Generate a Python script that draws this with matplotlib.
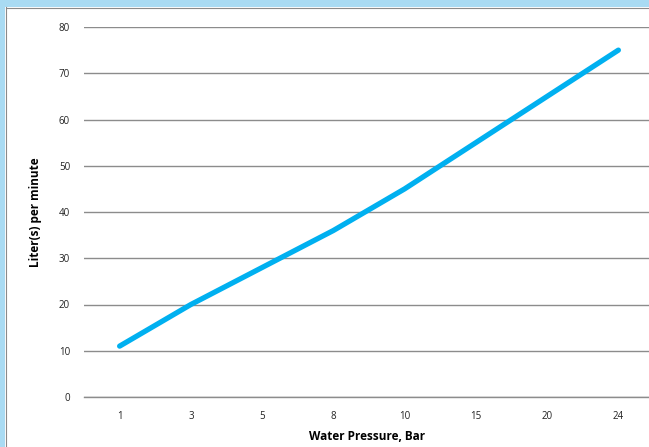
import matplotlib
matplotlib.use("Agg")
import matplotlib.pyplot as plt
from matplotlib.patches import Rectangle
from matplotlib.lines import Line2D

categories = ["1", "3", "5", "8", "10", "15", "20", "24"]
liters = [11, 20, 28, 36, 45, 55, 65, 75]
yticks = [0, 10, 20, 30, 40, 50, 60, 70, 80]

plt.rcParams['font.family'] = ['Open Sans', 'DejaVu Sans']

W, H = 649, 447
fig = plt.figure(figsize=(W/100, H/100), dpi=100)
fig.patch.set_facecolor("white")

# Blue frame (top and left)
fig.add_artist(Rectangle((0, 1 - 7/H), 1, 7/H, transform=fig.transFigure,
                         facecolor="#A9DBF3", edgecolor="none", zorder=0))
fig.add_artist(Rectangle((0, 0), 5/W, 1, transform=fig.transFigure,
                         facecolor="#A9DBF3", edgecolor="none", zorder=0))
fig.add_artist(Line2D([5.5/W, 5.5/W], [0, 1 - 7/H], transform=fig.transFigure,
                      color="#8A8A8A", lw=0.8))
fig.add_artist(Line2D([5.5/W, 1], [1 - 7.5/H, 1 - 7.5/H], transform=fig.transFigure,
                      color="#8A8A8A", lw=0.8))

left = 84/W
bottom = 50/H
width = (654 - 84)/W
height = 370/H
ax = fig.add_axes([left, bottom, width, height])
ax.set_facecolor("none")

x = list(range(len(categories)))
ax.plot(x, liters, color="#00B0F0", lw=3.8, solid_capstyle="round", zorder=3)

ax.set_xlim(-0.5, len(categories) - 0.5)
ax.set_ylim(0, 80)
ax.set_yticks(yticks)
ax.set_xticks(x)
ax.set_xticklabels(categories)
ax.yaxis.grid(True, color="#8C8C8C", lw=1.0)
ax.set_axisbelow(True)
for s in ["top", "right", "left"]:
    ax.spines[s].set_visible(False)
ax.spines["bottom"].set_color("#8C8C8C")
ax.spines["bottom"].set_linewidth(1.0)
ax.tick_params(axis="both", length=0, labelsize=7, colors="#222222")
ax.tick_params(axis="y", pad=10)
ax.tick_params(axis="x", pad=10)

ax.set_xlabel("Water Pressure, Bar", fontsize=8.5, fontweight="bold", labelpad=7)
ax.set_ylabel("Liter(s) per minute", fontsize=8.5, fontweight="bold", labelpad=12)
ax.xaxis.set_label_coords((367 - 84)/570, -33/370)

fig.savefig("out.png", dpi=100)
